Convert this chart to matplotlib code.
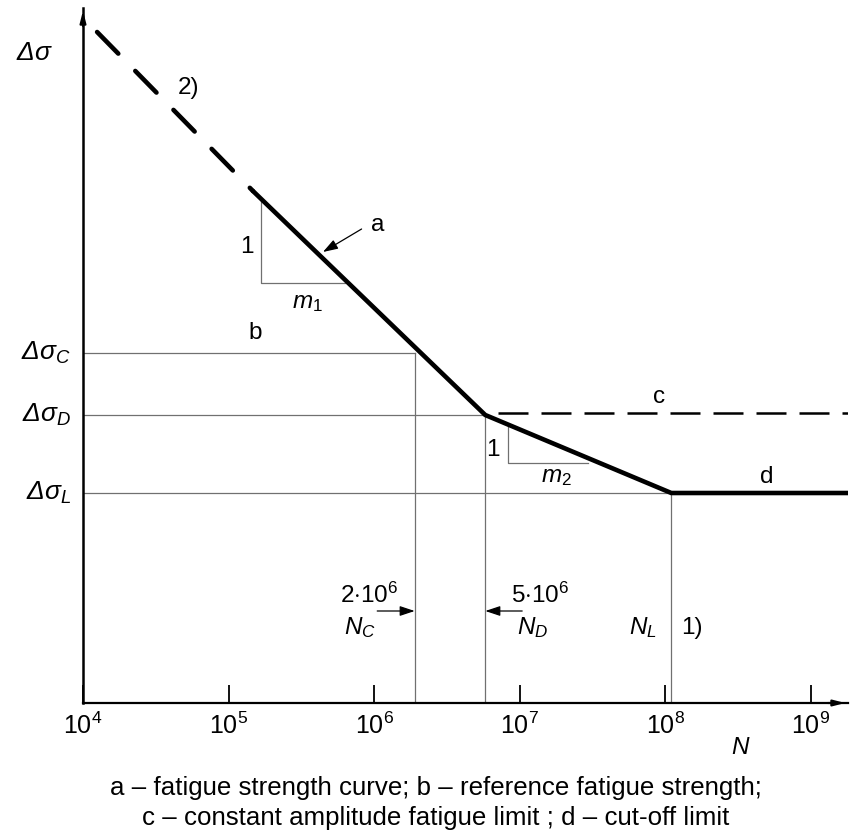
import numpy as np
import matplotlib
matplotlib.use("Agg")
import matplotlib.pyplot as plt
from matplotlib.transforms import blended_transform_factory

plt.rcParams['font.family'] = ['Liberation Sans', 'DejaVu Sans']
plt.rcParams['mathtext.fontset'] = 'custom'
plt.rcParams['mathtext.rm'] = 'Liberation Sans'
plt.rcParams['mathtext.it'] = 'Liberation Sans:italic'
plt.rcParams['mathtext.bf'] = 'Liberation Sans:bold'
plt.rcParams['mathtext.sf'] = 'Liberation Sans:italic'

# ---------------- data (arbitrary stress units, N in cycles) ----------------
N_min, N_max = 1e4, 1.8e9
N_ext = [1.25e4, 1.47e5]          # extrapolated (dashed) part 2)
S_ext = [671, 512]
N_curve = [1.47e5, 5.8e6, 1.1e8, 1.8e9]   # fatigue strength curve a + cut-off d
S_curve = [512, 288, 210, 210]
N_C, N_D, N_L = 1.9e6, 5.8e6, 1.1e8
S_C, S_D, S_L = 350, 288, 210
tri1_N = [1.67e5, 1.67e5, 6.3e5]
tri1_S = [503, 420, 420]
tri2_N = [8.3e6, 8.3e6, 2.94e7]
tri2_S = [277, 240, 240]
xticks = [1e4, 1e5, 1e6, 1e7, 1e8, 1e9]
xticklabels = [r'$10^4$', r'$10^5$', r'$10^6$', r'$10^7$', r'$10^8$', r'$10^9$']

fig = plt.figure(figsize=(8.5, 8.31), dpi=100)
ax = fig.add_axes([83/850, 1-703/831, (848-83)/850, (703-8)/831])
ax.set_xscale('log')
ax.set_xlim(N_min, N_max)
ax.set_ylim(0, 695)

thin = dict(color='#707070', lw=0.9)
# reference lines
ax.plot([N_min, N_C], [S_C, S_C], **thin)
ax.plot([N_C, N_C], [0, S_C], **thin)
ax.plot([N_min, N_D], [S_D, S_D], **thin)
ax.plot([N_D, N_D], [0, S_D], **thin)
ax.plot([N_min, N_max], [S_L, S_L], **thin)
ax.plot([N_L, N_L], [0, S_L], **thin)
# slope triangles
ax.plot(tri1_N, tri1_S, **thin)
ax.plot(tri2_N, tri2_S, **thin)

# constant amplitude fatigue limit c
ax.plot([N_D, N_max], [S_D + 2, S_D + 2], color='black', lw=1.8,
        linestyle=(12, (12, 5.2)))
# curves
ax.plot(N_ext, S_ext, color='black', lw=3.3, linestyle=(0, (6.6, 5.3)),
        dash_capstyle='round', solid_capstyle='round')
ax.plot(N_curve, S_curve, color='black', lw=3.3, solid_capstyle='round',
        solid_joinstyle='miter')

# spines and ticks
for s in ['top', 'right']:
    ax.spines[s].set_visible(False)
ax.spines['left'].set_linewidth(1.8)
ax.spines['bottom'].set_linewidth(1.6)
ax.set_xticks(xticks)
ax.set_xticklabels(xticklabels)
ax.minorticks_off()
ax.tick_params(axis='x', direction='in', length=13, width=1.3, labelsize=18, pad=7)
ax.set_yticks([])
# axis arrows
ax.annotate('', xy=(0, 1.0), xytext=(0, 0.97), xycoords='axes fraction',
            arrowprops=dict(arrowstyle='-|>,head_length=0.7,head_width=0.18',
                            color='black', lw=1.5), annotation_clip=False)
ax.annotate('', xy=(1.0, 0), xytext=(0.97, 0), xycoords='axes fraction',
            arrowprops=dict(arrowstyle='-|>,head_length=0.7,head_width=0.18',
                            color='black', lw=1.5), annotation_clip=False)

fs = 17.5
fy = 19
# y labels
ytr = blended_transform_factory(ax.transAxes, ax.transData)
ax.text(-0.016, S_C, r'$\mathsf{\Delta}\sigma_C$', transform=ytr, ha='right', va='center', fontsize=fy)
ax.text(-0.016, S_D, r'$\mathsf{\Delta}\sigma_D$', transform=ytr, ha='right', va='center', fontsize=fy)
ax.text(-0.016, S_L, r'$\mathsf{\Delta}\sigma_L$', transform=ytr, ha='right', va='center', fontsize=fy)
ax.text(-0.039, 650, r'$\mathsf{\Delta}\sigma$', transform=ytr, ha='right', va='center', fontsize=fy)

# labels in plot
ax.text(5.3e4, 615, '2)', fontsize=fs, ha='center', va='center')
ax.text(1.06e6, 478, 'a', fontsize=fs, ha='center', va='center')
ax.annotate('', xy=(4.45e5, 451), xytext=(8.2e5, 474),
            arrowprops=dict(arrowstyle='-|>,head_length=0.9,head_width=0.3',
                            color='black', lw=0.9, shrinkA=0, shrinkB=0))
ax.text(1.34e5, 456, '1', fontsize=fs, ha='center', va='center')
ax.text(3.5e5, 400, r'$m_1$', fontsize=fs, ha='center', va='center')
ax.text(1.52e5, 370, 'b', fontsize=fs, ha='center', va='center')
ax.text(9.0e7, 306, 'c', fontsize=fs, ha='center', va='center')
ax.text(6.5e6, 253, '1', fontsize=fs, ha='center', va='center')
ax.text(1.8e7, 226, r'$m_2$', fontsize=fs, ha='center', va='center')
ax.text(5.0e8, 226, 'd', fontsize=fs, ha='center', va='center')

ax.text(9.2e5, 108, r'$2{\cdot}10^6$', fontsize=fs, ha='center', va='center')
ax.text(8.0e5, 75, r'$N_C$', fontsize=fs, ha='center', va='center')
ax.annotate('', xy=(N_C, 92), xytext=(1.05e6, 92),
            arrowprops=dict(arrowstyle='-|>,head_length=0.9,head_width=0.3',
                            color='black', lw=0.9, shrinkA=0, shrinkB=0))
ax.text(1.38e7, 108, r'$5{\cdot}10^6$', fontsize=fs, ha='center', va='center')
ax.text(1.23e7, 75, r'$N_D$', fontsize=fs, ha='center', va='center')
ax.annotate('', xy=(N_D, 92), xytext=(1.04e7, 92),
            arrowprops=dict(arrowstyle='-|>,head_length=0.9,head_width=0.3',
                            color='black', lw=0.9, shrinkA=0, shrinkB=0))
ax.text(7.0e7, 75, r'$N_L$', fontsize=fs, ha='center', va='center')
ax.text(1.52e8, 75, '1)', fontsize=fs, ha='center', va='center')

fig.text(741/850, 1-748/831, r'$N$', fontsize=fs, ha='center', va='center')
fig.text(436/850, 1-795/831, 'a – fatigue strength curve; b – reference fatigue strength;',
         fontsize=18.6, ha='center', va='baseline')
fig.text(436/850, 1-825/831, 'c – constant amplitude fatigue limit ; d – cut-off limit',
         fontsize=18.6, ha='center', va='baseline')

fig.savefig('out.png', dpi=100)
